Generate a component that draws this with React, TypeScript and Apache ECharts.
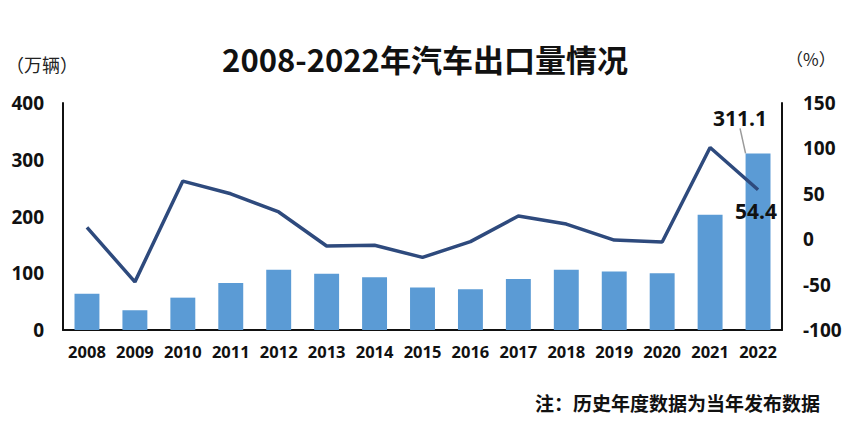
import React, { useEffect, useRef } from "react";
import * as echarts from "echarts";

const years = ["2008","2009","2010","2011","2012","2013","2014","2015","2016","2017","2018","2019","2020","2021","2022"];
const exportVolume = [64, 35, 57, 83, 106, 99, 93, 75, 72, 90, 106, 103, 100, 203, 311.1];
const growthRate = [13, -47, 64, 50, 30, -7.5, -6.7, -20, -2.7, 25.5, 16.7, -1, -3, 101, 54.4];
const leftTicks = [0, 100, 200, 300, 400];
const rightTicks = [-100, -50, 0, 50, 100, 150];

const FONT = "'Noto Sans CJK SC', 'Open Sans', sans-serif";
const NUM = "'Open Sans', 'Noto Sans CJK SC', sans-serif";

export default function App() {
  const ref = useRef<HTMLDivElement>(null);
  useEffect(() => {
    if (!ref.current) return;
    const chart = echarts.init(ref.current, null, { renderer: "svg" });
    const last = years.length - 1;
    chart.setOption({
      animation: false,
      backgroundColor: "#ffffff",
      textStyle: { fontFamily: FONT },
      title: {
        text: "2008-2022年汽车出口量情况",
        left: "center",
        top: 38,
        textStyle: { fontFamily: FONT, fontSize: 31, fontWeight: "bold", color: "#111" },
      },
      grid: { left: 63, right: 68, top: 103, bottom: 95, containLabel: false },
      graphic: [
        { type: "text", left: 6, top: 55, style: { text: "（万辆）", fontFamily: FONT, fontSize: 18, fill: "#222" } },
        { type: "text", left: 786, top: 50, style: { text: "（%）", fontFamily: FONT, fontSize: 17, fill: "#222" } },
        { type: "text", right: 30, top: 393, style: { text: "注：历史年度数据为当年发布数据", fontFamily: FONT, fontSize: 19, fontWeight: "bold", fill: "#111" } },
      ],
      xAxis: {
        type: "category",
        data: years,
        axisLine: { show: true, lineStyle: { color: "#111", width: 2 } },
        axisTick: { show: false },
        axisLabel: { interval: 0, fontFamily: NUM, fontSize: 16.5, fontWeight: "bold", color: "#111", margin: 13 },
      },
      yAxis: [
        {
          type: "value",
          min: leftTicks[0],
          max: leftTicks[leftTicks.length - 1],
          interval: 100,
          axisLine: { show: true, lineStyle: { color: "#111", width: 2 } },
          axisTick: { show: false },
          splitLine: { show: false },
          axisLabel: { fontFamily: NUM, fontSize: 19, fontWeight: "bold", color: "#111", margin: 19 },
        },
        {
          type: "value",
          min: rightTicks[0],
          max: rightTicks[rightTicks.length - 1],
          interval: 50,
          axisLine: { show: true, lineStyle: { color: "#111", width: 2 } },
          axisTick: { show: false },
          splitLine: { show: false },
          axisLabel: { fontFamily: NUM, fontSize: 19, fontWeight: "bold", color: "#111", margin: 21 },
        },
      ],
      series: [
        {
          type: "bar",
          yAxisIndex: 0,
          barWidth: "52%",
          itemStyle: { color: "#5b9bd5" },
          data: exportVolume.map((v, i) =>
            i === last
              ? {
                  value: v,
                  label: {
                    show: true,
                    position: "top",
                    formatter: "{c}",
                    fontFamily: NUM,
                    fontSize: 21,
                    fontWeight: "bold",
                    color: "#111",
                  },
                  labelLine: { show: true, lineStyle: { color: "#9a9a9a", width: 1.5 } },
                }
              : v
          ),
          labelLayout: (p: any) => (p.dataIndex === last ? { dx: -18, dy: -20 } : {}),
        },
        {
          type: "line",
          yAxisIndex: 1,
          data: growthRate.map((v, i) =>
            i === last
              ? {
                  value: v,
                  label: {
                    show: true,
                    position: "bottom",
                    offset: [-2, 6],
                    formatter: "{c}",
                    fontFamily: NUM,
                    fontSize: 21,
                    fontWeight: "bold",
                    color: "#111",
                  },
                }
              : v
          ),
          symbol: "circle",
          symbolSize: 0,
          showSymbol: true,
          lineStyle: { color: "#2e4a7d", width: 3.5 },
          itemStyle: { color: "#2e4a7d" },
          z: 3,
        },
      ],
    });
    return () => chart.dispose();
  }, []);
  return <div ref={ref} style={{ width: 850, height: 425, position: "absolute", left: 0, top: 0 }} />;
}
